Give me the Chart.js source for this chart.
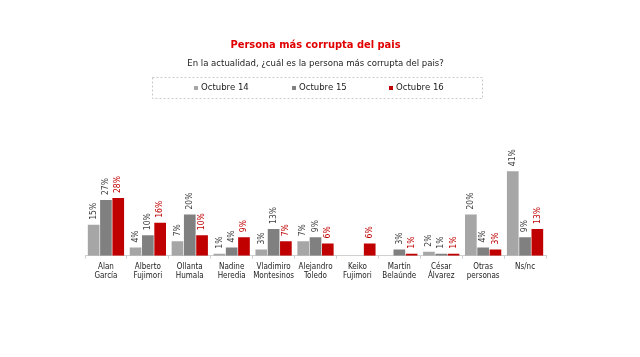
<!DOCTYPE html>
<html><head><meta charset="utf-8">
<script src="https://cdn.jsdelivr.net/npm/chart.js@4"></script>
<style>html,body{margin:0;padding:0;background:#fff}#w{width:640px;height:357px}</style>
</head><body><div id="w"><canvas id="c" width="640" height="357"></canvas></div>
<script>
const categories = [["Alan","García"],["Alberto","Fujimori"],["Ollanta","Humala"],["Nadine","Heredia"],["Vladimiro","Montesinos"],["Alejandro","Toledo"],["Keiko","Fujimori"],["Martín","Belaúnde"],["César","Álvarez"],["Otras","personas"],["Ns/nc"]];
const seriesNames = ["Octubre 14","Octubre 15","Octubre 16"];
const oct14 = [15,4,7,1,3,7,null,null,2,20,41];
const oct15 = [27,10,20,4,13,9,null,3,1,4,9];
const oct16 = [28,16,10,9,7,6,6,1,1,3,13];
const colors = ["#a6a6a6","#808080","#c00000"];
const labelColors = ["#404040","#404040","#c00000"];
const FONT = "'DejaVu Sans Condensed', 'DejaVu Sans'";

const valueLabels = {
  id: "valueLabels",
  afterDatasetsDraw(chart) {
    const ctx = chart.ctx;
    chart.data.datasets.forEach((ds, i) => {
      const meta = chart.getDatasetMeta(i);
      meta.data.forEach((bar, j) => {
        const v = ds.data[j];
        if (v === null || v === undefined) return;
        ctx.save();
        ctx.translate(bar.x, bar.y - 5);
        ctx.rotate(-Math.PI / 2);
        ctx.font = "8.5px " + FONT;
        ctx.fillStyle = labelColors[i];
        ctx.textAlign = "left";
        ctx.textBaseline = "middle";
        ctx.fillText(v + "%", 0, 0);
        ctx.restore();
      });
    });
  }
};
const customLegend = {
  id: "customLegend",
  afterDraw(chart) {
    const ctx = chart.ctx;
    ctx.save();
    ctx.strokeStyle = "#c8c8c8";
    ctx.lineWidth = 1;
    ctx.setLineDash([2, 2]);
    ctx.strokeRect(152.5, 77.5, 330, 21);
    ctx.setLineDash([]);
    const xs = [194, 292, 389];
    ctx.font = "9.5px " + FONT;
    ctx.textBaseline = "middle";
    ctx.textAlign = "left";
    chart.data.datasets.forEach((ds, i) => {
      ctx.fillStyle = colors[i];
      ctx.fillRect(xs[i], 86, 4, 4);
      ctx.fillStyle = "#222";
      ctx.fillText(ds.label, xs[i] + 7, 88);
    });
    ctx.restore();
  }
};

new Chart(document.getElementById("c"), {
  type: "bar",
  data: {
    labels: categories,
    datasets: [
      { label: seriesNames[0], data: oct14, backgroundColor: colors[0] },
      { label: seriesNames[1], data: oct15, backgroundColor: colors[1] },
      { label: seriesNames[2], data: oct16, backgroundColor: colors[2] }
    ]
  },
  options: {
    responsive: false,
    animation: false,
    devicePixelRatio: 1,
    layout: { padding: { left: 85, right: 94, top: 39, bottom: 73 } },
    datasets: { bar: { categoryPercentage: 0.88, barPercentage: 0.95 } },
    plugins: {
      title: { display: true, text: "Persona más corrupta del pais", color: "#e00000",
        font: { family: FONT, size: 11, weight: "bold" }, padding: { top: 0, bottom: 6 } },
      subtitle: { display: true, text: "En la actualidad, ¿cuál es la persona más corrupta del pais?", color: "#222",
        font: { family: FONT, size: 9.5 }, padding: { top: 0, bottom: 83 } },
      legend: { display: false },
      tooltip: { enabled: false }
    },
    scales: {
      x: {
        grid: { display: true, drawOnChartArea: false, offset: true, tickLength: 3, color: "#c9d3dc" },
        border: { color: "#d0d0d0" },
        ticks: { color: "#222", font: { family: FONT, size: 8 }, maxRotation: 0, autoSkip: false, padding: 3 }
      },
      y: { display: false, min: 0, max: 50 }
    }
  },
  plugins: [valueLabels, customLegend]
});
</script></body></html>
